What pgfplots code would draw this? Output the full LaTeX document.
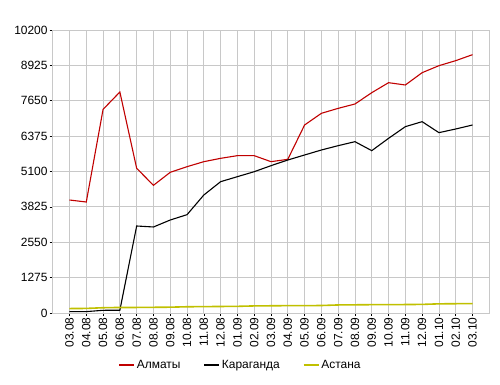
\documentclass[border=0pt]{standalone}
\usepackage{fontspec}
\setmainfont{Liberation Sans}
\usepackage{pgfplots}
\pgfplotsset{compat=1.18}
\definecolor{almred}{RGB}{192,0,0}
\definecolor{astol}{RGB}{192,192,0}
\definecolor{gridgray}{RGB}{200,200,200}
\begin{document}
\begin{tikzpicture}
\path[use as bounding box] (0,0) rectangle (500bp,385bp);
\begin{axis}[
  at={(52.7bp,72bp)}, anchor=south west,
  scale only axis, width=436.6bp, height=283bp,
  xmin=-1, xmax=25, ymin=0, ymax=10200,
  xtick={0,...,24},
  xticklabels={03.08,04.08,05.08,06.08,07.08,08.08,09.08,10.08,11.08,12.08,01.09,02.09,03.09,04.09,05.09,06.09,07.09,08.09,09.09,10.09,11.09,12.09,01.10,02.10,03.10},
  x tick label style={rotate=90, anchor=east, font=\fontsize{12}{14}\selectfont, inner sep=1.5bp},
  ytick={0,1275,2550,3825,5100,6375,7650,8925,10200},
  scaled y ticks=false,
  y tick label style={font=\fontsize{12}{14}\selectfont, inner sep=2bp},
  /pgf/number format/.cd, fixed, precision=0, 1000 sep={}, assume math mode=true,
  /pgfplots/.cd,
  grid=major,
  major grid style={gridgray, line width=0.8bp},
  axis line style={gridgray, line width=0.8bp},
  tick style={black, line width=0.6bp},
  tick align=outside, major tick length=3bp,
  xtick pos=bottom, ytick pos=left,
  legend columns=3,
  legend style={at={(0.43,-0.184)}, anchor=center, draw=none,
    font=\fontsize{12}{14}\selectfont,
    /tikz/every even column/.append style={column sep=21bp}},
  legend image code/.code={\draw[#1, line width=1.5bp] (0bp,0bp) -- (15bp,0bp);},
]
\addplot[almred, line width=1.1bp] coordinates {
(0,4073)(1,4000)(2,7340)(3,7965)(4,5215)(5,4602)(6,5071)(7,5274)(8,5454)(9,5575)(10,5671)(11,5671)(12,5454)
(13,5539)(14,6776)(15,7197)(16,7376)(17,7533)(18,7941)(19,8301)(20,8218)(21,8662)(22,8914)(23,9095)(24,9311)};
\addlegendentry{Алматы}
\addplot[black, line width=1.1bp] coordinates {
(0,50)(1,50)(2,97)(3,100)(4,3136)(5,3100)(6,3352)(7,3544)(8,4253)(9,4733)(10,4914)(11,5093)(12,5310)
(13,5514)(14,5695)(15,5875)(16,6031)(17,6175)(18,5851)(19,6295)(20,6716)(21,6896)(22,6500)(23,6632)(24,6776)};
\addlegendentry{Караганда}
\addplot[astol, line width=1.6bp] coordinates {
(0,160)(1,165)(2,190)(3,200)(4,200)(5,205)(6,210)(7,225)(8,230)(9,235)(10,240)(11,255)(12,260)
(13,265)(14,265)(15,270)(16,290)(17,295)(18,300)(19,300)(20,305)(21,310)(22,330)(23,335)(24,340)};
\addlegendentry{Астана}
\end{axis}
\end{tikzpicture}
\end{document}
